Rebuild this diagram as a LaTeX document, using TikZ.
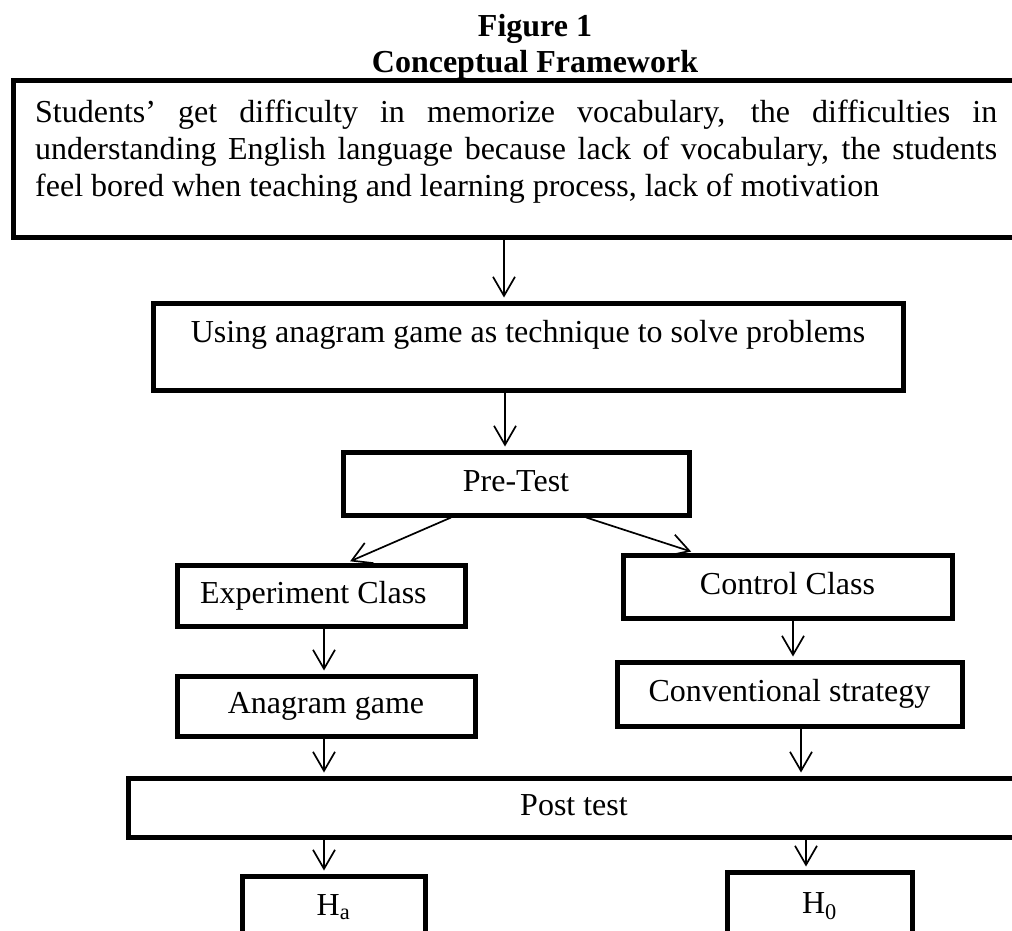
\documentclass[tikz,border=0pt]{standalone}
\usepackage{fontspec}
\setmainfont{Liberation Serif}
\usetikzlibrary{arrows.meta,calc}
\hbadness=10000
\begin{document}
\begin{tikzpicture}[x=1pt,y=-1pt,
  box/.style={draw, line width=5pt, inner sep=2pt, text height=22pt, text depth=7pt,
              font=\fontsize{32}{37}\selectfont},
  arr/.style={line width=1.7pt, shorten >=3pt, -{Straight Barb[length=19pt,width=22pt]}},
  ttl/.style={font=\fontsize{32}{37}\selectfont\bfseries, anchor=base, inner sep=0pt}]
\useasboundingbox (0,0) rectangle (1012,931);
\clip (0,0) rectangle (1012,931);
\fill[white] (0,0) rectangle (1012,931);
% titles
\node[ttl] (fig) at (535,37) {Figure 1};
\node[ttl] (cf) at (535,73) {Conceptual Framework};
% top box
\node[box, minimum width=1007pt, minimum height=156pt] (top) at (516.5,159) {};
\node[anchor=base west, inner sep=0pt, text width=962pt, align=justify,
      font=\fontsize{32}{37}\selectfont] (toptext) at (35,123)
  {Students’ get difficulty in memorize vocabulary, the difficulties in\linebreak
   understanding English language because lack of vocabulary, the students\linebreak
   feel bored when teaching and learning process, lack of motivation};
% boxes
\node[box, minimum width=750pt, minimum height=87pt, text depth=31pt] (use) at (528,346.5)
  {Using anagram game as technique to solve problems};
\node[box, minimum width=346pt, minimum height=63pt] (pre) at (516,483.5) {Pre-Test};
\node[box, minimum width=288pt, minimum height=61pt, inner xsep=23pt, text width=242pt,
      align=flush left] (exp) at (321,595.5) {Experiment Class};
\node[box, minimum width=298pt, minimum height=60pt] (ana) at (326,706) {Anagram game};
\node[box, minimum width=329pt, minimum height=63pt] (ctl) at (787.5,586.5) {Control Class};
\node[box, minimum width=345pt, minimum height=64pt] (conv) at (789.5,694) {Conventional strategy};
\node[box, minimum width=892pt, minimum height=59pt] (post) at (574,807.5) {Post test};
\node[box, minimum width=183pt, minimum height=64pt] (ha) at (333.5,908) {H\textsubscript{a}};
\node[box, minimum width=185pt, minimum height=68pt] (h0) at (819.5,906) {H\textsubscript{0}};
% connectors
\coordinate (t1) at ([xshift=-24pt]use.north);
\draw[arr] (top.south -| t1) -- (t1);
\coordinate (t2) at ([xshift=-11pt]pre.north);
\draw[arr] (use.south -| t2) -- (t2);
\draw[arr] ($(pre.south west)!0.315!(pre.south east)$) -- ($(exp.north west)!0.59!(exp.north east)$);
\draw[arr] ($(pre.south west)!0.70!(pre.south east)$) -- ($(ctl.north west)!0.22!(ctl.north east)$);
\draw[arr] ([xshift=3pt]exp.south) -- ([xshift=-2pt]ana.north);
\draw[arr] ([xshift=5.5pt]ctl.south) -- ([xshift=3.5pt]conv.north);
\coordinate (t3) at ([xshift=-2pt]ana.south);
\draw[arr] (t3) -- (t3 |- post.north);
\coordinate (t4) at ([xshift=11.5pt]conv.south);
\draw[arr] (t4) -- (t4 |- post.north);
\coordinate (t5) at ([xshift=-9.5pt]ha.north);
\draw[arr] (post.south -| t5) -- (t5);
\coordinate (t6) at ([xshift=-13.5pt]h0.north);
\draw[arr] (post.south -| t6) -- (t6);
\end{tikzpicture}
\end{document}
